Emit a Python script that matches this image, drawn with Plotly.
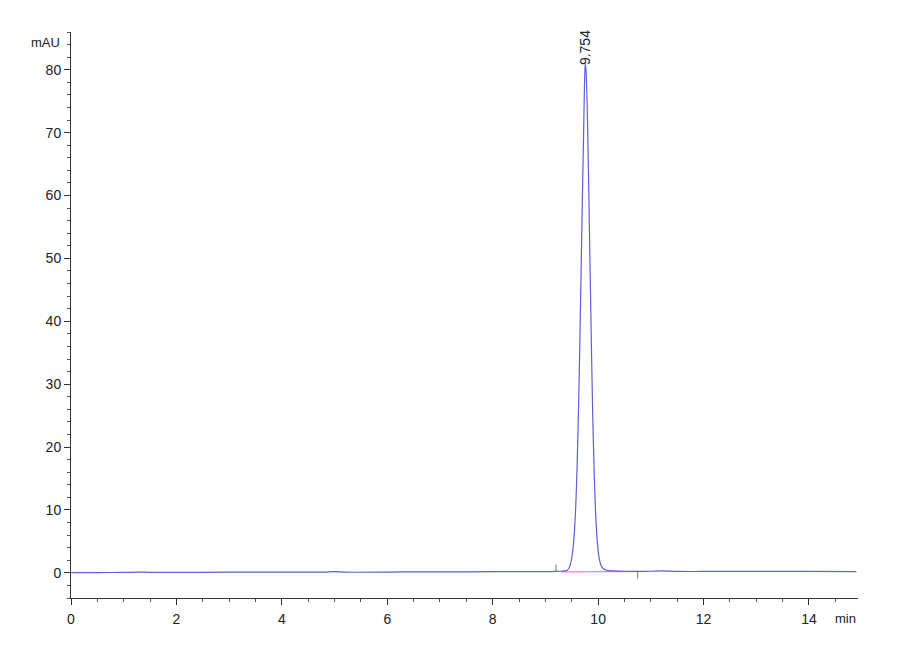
import plotly.graph_objects as go

# Хроматограмма: время (мин) и сигнал (mAU)
time_min = [0.0, 0.5, 1.0, 1.3, 1.5, 2.0, 3.0, 4.0, 4.8, 5.0, 5.2, 6.0, 6.6, 7.0, 8.0, 8.5,
            9.0, 9.2, 9.3, 9.4, 9.45, 9.475, 9.5, 9.525, 9.55, 9.575, 9.6, 9.625, 9.65,
            9.675, 9.7, 9.725, 9.74, 9.754, 9.77, 9.79, 9.81, 9.83, 9.85, 9.875, 9.9,
            9.925, 9.95, 9.975, 10.0, 10.025, 10.05, 10.075, 10.1, 10.15, 10.2, 10.3,
            10.5, 10.75, 11.0, 11.2, 11.5, 12.0, 13.0, 14.0, 14.9]
signal_mau = [0.05, 0.05, 0.06, 0.12, 0.08, 0.08, 0.1, 0.1, 0.12, 0.18, 0.1, 0.12, 0.16, 0.15,
              0.18, 0.2, 0.2, 0.22, 0.25, 0.35, 0.8, 1.4, 2.4, 4.0, 6.5, 10.5, 16.5, 25.0,
              35.0, 47.0, 59.0, 70.0, 77.0, 81.0, 80.0, 75.0, 67.0, 57.0, 47.0, 35.0, 24.0,
              16.0, 10.0, 6.0, 3.5, 2.1, 1.3, 0.9, 0.65, 0.45, 0.35, 0.3, 0.25, 0.22,
              0.25, 0.3, 0.22, 0.22, 0.22, 0.22, 0.2]

peak_rt = 9.754
peak_height = 81.0
peak_label = "9.754"

# интегрирование: базовая линия пика и метки начала/конца
base_start, base_end = 9.3, 10.75
base_level = [0.15, 0.2]
mark_times = [9.2, 10.75]

x_range = [0, 14.93]
y_range = [-4, 86]
x_ticks = [0, 2, 4, 6, 8, 10, 12, 14]
y_ticks = [0, 10, 20, 30, 40, 50, 60, 70, 80]

font_family = 'Liberation Sans Narrow, Liberation Sans, Arial'

fig = go.Figure()

fig.add_trace(go.Scatter(
    x=[base_start, base_end], y=base_level, mode='lines',
    line=dict(color='#ff55dd', width=1), hoverinfo='skip', showlegend=False
))

fig.add_trace(go.Scatter(
    x=time_min, y=signal_mau, mode='lines',
    line=dict(color='#5f5fd6', width=1.2, shape='spline', smoothing=0.6),
    showlegend=False
))

# короткие метки начала и конца пика
fig.add_trace(go.Scatter(
    x=[mark_times[0], mark_times[0], None, mark_times[1], mark_times[1]],
    y=[0.2, 1.3, None, 0.2, -0.9], mode='lines',
    line=dict(color='#777777', width=1), hoverinfo='skip', showlegend=False
))

axis_common = dict(
    showline=True, linecolor='#333333', linewidth=1,
    ticks='outside', ticklen=6, tickcolor='#333333',
    showgrid=False, zeroline=False,
    tickfont=dict(family=font_family, size=14, color='#222222'),
)

# поля с учётом 8px отступа страницы
fig.update_layout(
    width=900, height=660,
    margin=dict(l=63, r=50, t=24, b=70),
    plot_bgcolor='white', paper_bgcolor='white',
    xaxis=dict(range=x_range, tickvals=x_ticks, ticklabelstandoff=2,
               minor=dict(dtick=0.5, ticks='outside', ticklen=3, tickcolor='#555555'),
               **axis_common),
    yaxis=dict(range=y_range, tickvals=y_ticks,
               minor=dict(dtick=2, ticks='outside', ticklen=3, tickcolor='#555555'),
               **axis_common),
    annotations=[
        dict(x=peak_rt, y=peak_height, text=peak_label, textangle=-90,
             showarrow=False, xanchor='center', yanchor='bottom', yshift=-4,
             font=dict(family=font_family, size=14, color='#222222')),
        dict(x=0, y=1, xref='paper', yref='paper', text='mAU', showarrow=False,
             xanchor='right', yanchor='top', xshift=-9, yshift=-1,
             font=dict(family=font_family, size=13, color='#222222')),
        dict(x=1, y=0, xref='paper', yref='paper', text='min', showarrow=False,
             xanchor='right', yanchor='top', yshift=-11, xshift=0,
             font=dict(family=font_family, size=13, color='#222222')),
    ],
)

fig.write_html("out.html")
